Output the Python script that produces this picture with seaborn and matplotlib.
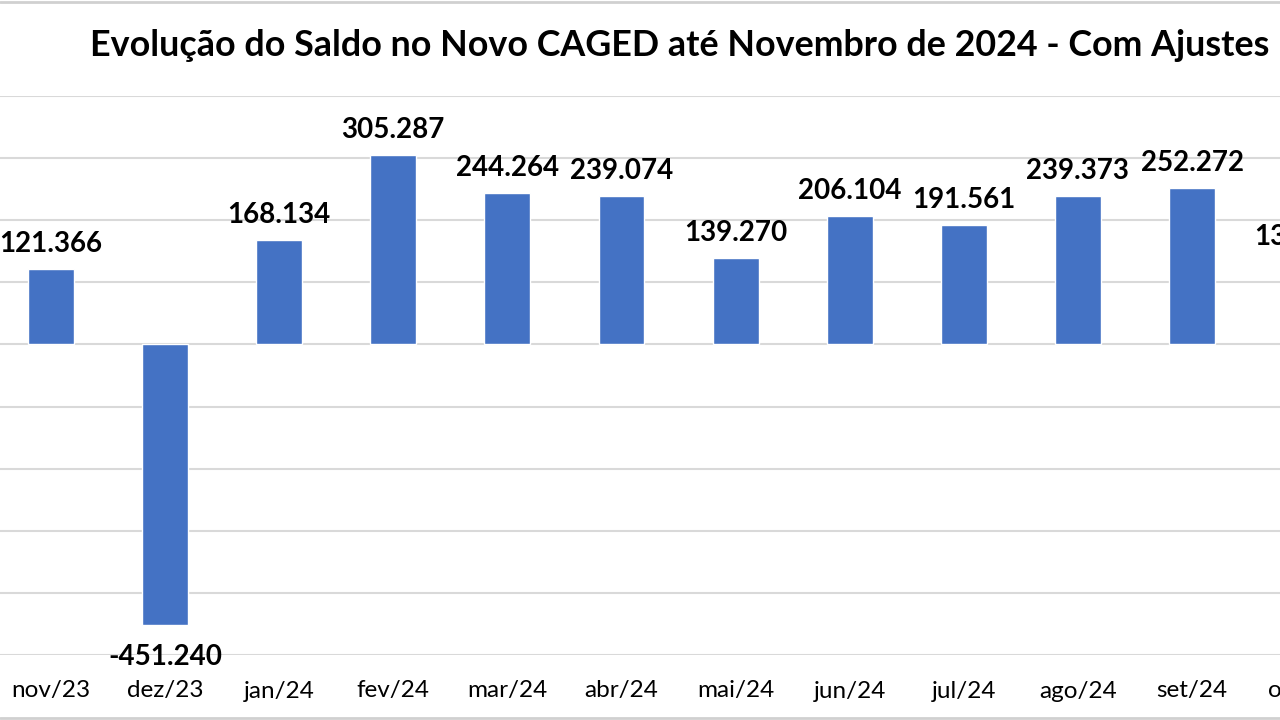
import matplotlib
matplotlib.use("Agg")
import matplotlib.pyplot as plt
import seaborn as sns
import pandas as pd
from matplotlib.lines import Line2D

months = ["nov/23", "dez/23", "jan/24", "fev/24", "mar/24", "abr/24", "mai/24",
          "jun/24", "jul/24", "ago/24", "set/24", "out/24"]
saldo = [121366, -451240, 168134, 305287, 244264, 239074, 139270,
         206104, 191561, 239373, 252272, 132714]
title = "Evolução do Saldo no Novo CAGED até Novembro de 2024 - Com Ajustes"

sns.set_theme(style="white")
plt.rcParams['font.family'] = ['Lato', 'DejaVu Sans']

df = pd.DataFrame({"mes": months, "saldo": saldo})

fig = plt.figure(figsize=(12.8, 7.2), dpi=100)
ax = fig.add_axes([0, (720 - 655) / 720, 1, (655 - 96) / 720])

sns.barplot(data=df, x="mes", y="saldo", color="#4472C4", width=0.403,
            saturation=1, ax=ax, zorder=3)

ax.set_ylim(-500000, 400000)
ax.set_xlim(-51 / 114.1, (1280 - 51) / 114.1)
for yv in range(-500000, 400001, 100000):
    ax.axhline(yv, color="#d9d9d9", lw=1.5, zorder=1)

for s in ax.spines.values():
    s.set_visible(False)
ax.set_yticks([])
ax.set_xticks([])
ax.set_xlabel("")
ax.set_ylabel("")

# per-pixel data scale
px = 900000 / (655 - 96)
for i, (m, v) in enumerate(zip(months, saldo)):
    lab = f"{v:,}".replace(",", ".")
    if v >= 0:
        ax.text(i, v + 25 * px, lab, ha="center", va="center", fontsize=20,
                fontweight="bold", color="black", clip_on=False)
    else:
        ax.text(i, v - 32 * px, lab, ha="center", va="center", fontsize=20,
                fontweight="bold", color="black", clip_on=False)
    ax.text(i, -500000 - 36 * px, m, ha="center", va="center", fontsize=17.5,
            color="black", clip_on=False)

fig.text(680 / 1280, 1 - 45 / 720, title, ha="center", va="center",
         fontsize=25.8, fontweight="bold", color="black")

fig.add_artist(Line2D([0, 1], [1 - 1.5 / 720, 1 - 1.5 / 720], color="#d0d0d0", lw=2,
                      transform=fig.transFigure))
fig.add_artist(Line2D([0, 1], [1 - 718 / 720, 1 - 718 / 720], color="#d0d0d0", lw=2,
                      transform=fig.transFigure))

fig.savefig("out.png", dpi=100, facecolor="white")
